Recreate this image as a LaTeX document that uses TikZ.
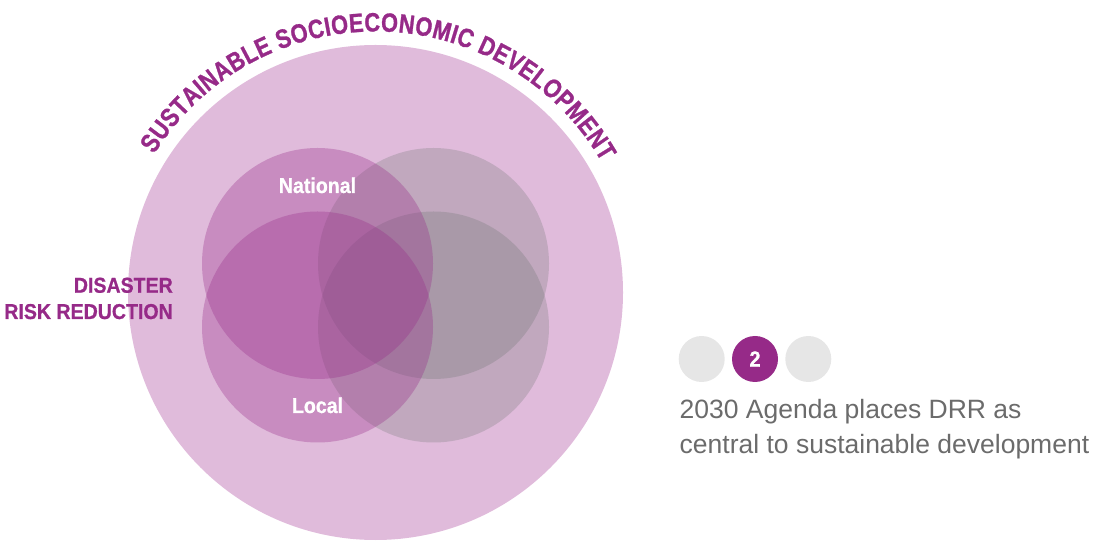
\documentclass[tikz,border=0pt]{standalone}
\usepackage{fontspec}
\setmainfont{Liberation Sans}
\newfontfamily\titlefont{Liberation Sans}[UprightFont={* Bold}, FakeStretch=0.82, FakeBold=1]
\newfontfamily\heavyfont{Liberation Sans}[UprightFont={* Bold}, FakeStretch=0.91, FakeBold=0.8]
\usetikzlibrary{decorations.text}
\definecolor{ptext}{HTML}{962A88}
\definecolor{pbig}{HTML}{E0BBDB}
\definecolor{pover}{HTML}{982E8A}
\definecolor{gover}{HTML}{606C64}
\definecolor{dotgrey}{HTML}{E6E6E6}
\definecolor{bodygrey}{HTML}{6B6B6B}
\tikzset{
  ring/.style={circle, inner sep=0pt, minimum size=231pt},
  purplering/.style={ring, fill=pover, fill opacity=0.33},
  greyring/.style={ring, fill=gover, fill opacity=0.24},
  dot/.style={circle, inner sep=0pt, minimum size=46pt, fill=dotgrey},
  lbl/.style={inner sep=0pt, text=white, font=\heavyfont\fontsize{21.5}{21.5}\selectfont},
  sidelbl/.style={inner sep=0pt, text=ptext, font=\heavyfont\fontsize{21.5}{21.5}\selectfont},
  body/.style={inner sep=0pt, text=bodygrey, font=\fontsize{26.5}{26.5}\selectfont}
}
\begin{document}
\begin{tikzpicture}[x=1pt,y=1pt]
\useasboundingbox (0,0) rectangle (1095,541);
% big circle
\node[circle, inner sep=0pt, minimum size=495pt, fill=pbig] (big) at (375.5,248.5) {};
% curved title
\path[decorate, decoration={text along path,
   text={|\titlefont\fontsize{26.5}{26.5}\selectfont|SUSTAINABLE SOCIOECONOMIC DEVELOPMENT},
   text color=ptext, text align={fit to path}}]
   (big.center) ++(148:261) arc[start angle=148, end angle=30, radius=261];
% grey circles (below)
\node[greyring] (tr) at (433.5,277.5) {};
\node[greyring] (br) at (433.5,214) {};
% purple circles (on top)
\node[purplering] (tl) at (317.5,277.5) {};
\node[purplering] (bl) at (317.5,214) {};
% labels
\node[lbl, anchor=base] (national) at (317.5,348) {National};
\node[lbl, anchor=base] (local) at (317.5,128) {Local};
\node[sidelbl, anchor=base east] (dis) at (173,248.3) {DISASTER};
\node[sidelbl, anchor=base east] (rr) at (173,222) {RISK REDUCTION};
% pagination dots
\node[dot] (d1) at (701.7,182) {};
\node[dot, fill=ptext, text=white, font=\heavyfont\fontsize{22}{22}\selectfont] (d2) at (755,182) {2};
\node[dot] (d3) at (808.3,182) {};
% body text
\node[body, anchor=base west] (l1) at (679.5,122.5) {2030 Agenda places DRR as};
\node[body, anchor=base west] (l2) at (679.5,88) {central to sustainable development};
\end{tikzpicture}
\end{document}
